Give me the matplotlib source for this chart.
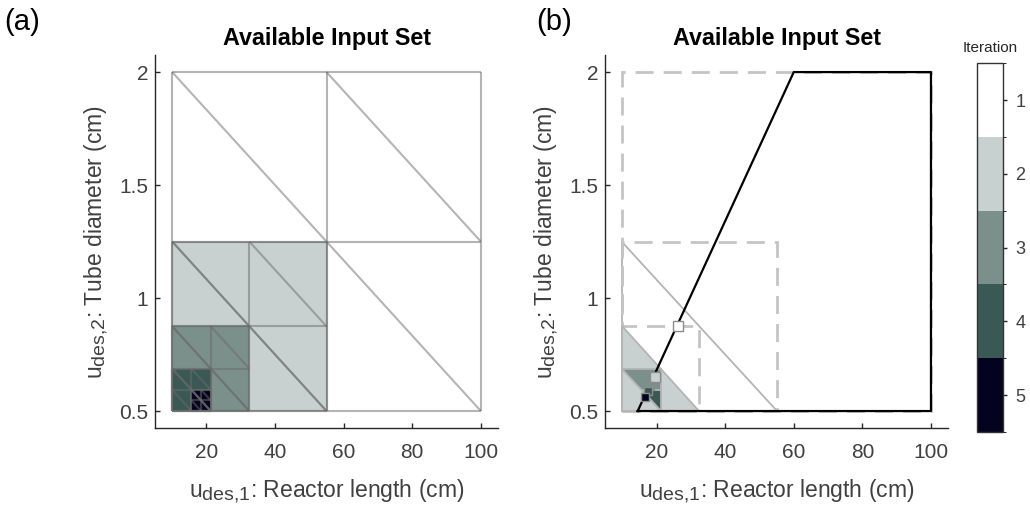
import numpy as np
import matplotlib
matplotlib.use('Agg')
import matplotlib.pyplot as plt
import matplotlib._mathtext as mtext
from matplotlib.collections import LineCollection
from matplotlib.patches import Polygon
from matplotlib.colors import ListedColormap, BoundaryNorm
import matplotlib.cm as cm

plt.rcParams['font.family'] = ['Liberation Sans', 'DejaVu Sans']
plt.rcParams['mathtext.default'] = 'regular'
# MATLAB-like subscripts: nearly full size
mtext.SHRINK_FACTOR = 0.85

# iteration levels and their colours
iterations = [1, 2, 3, 4, 5]
iter_colors = ['#ffffff', '#c8d1cf', '#7b8f8b', '#3a5955', '#03031f']

# box that gets bisected at each iteration (cm, cm)
box_x0 = [10, 10, 10, 10, 15.625]
box_x1 = [100, 55, 32.5, 21.25, 21.25]
box_y0 = [0.5, 0.5, 0.5, 0.5, 0.5]
box_y1 = [2, 1.25, 0.875, 0.6875, 0.59375]

# panel (b): half of the next box kept at each iteration
tri_half = ['ll', 'll', 'ur', 'ur']

# feasible region boundary
feas_x = [14.5, 60, 100, 100, 14.5]
feas_y = [0.5, 2, 2, 0.5, 0.5]

# points found on the boundary at each iteration
pt_x = [26.3, 19.5, 18.2, 17.4, 16.6]
pt_y = [0.875, 0.652, 0.612, 0.59, 0.563]

x_ticks = [20, 40, 60, 80, 100]
y_ticks = [0.5, 1, 1.5, 2]
y_ticklabels = ['0.5', '1', '1.5', '2']

txt_col = '#404040'


def grid_segments(x0, x1, y0, y1):
    xm = (x0 + x1) / 2
    ym = (y0 + y1) / 2
    segs = [[(x0, y0), (x1, y0)], [(x1, y0), (x1, y1)],
            [(x1, y1), (x0, y1)], [(x0, y1), (x0, y0)],
            [(xm, y0), (xm, y1)], [(x0, ym), (x1, ym)],
            [(x0, y1), (xm, ym)], [(xm, y1), (x1, ym)],
            [(x0, ym), (xm, y0)], [(xm, ym), (x1, y0)]]
    return segs


def style_axes(ax):
    ax.set_xlim(5, 105)
    ax.set_ylim(0.425, 2.075)
    ax.spines['top'].set_visible(False)
    ax.spines['right'].set_visible(False)
    for s in ['left', 'bottom']:
        ax.spines[s].set_color('#262626')
        ax.spines[s].set_linewidth(1)
    ax.set_xticks(x_ticks)
    ax.set_yticks(y_ticks)
    ax.set_yticklabels(y_ticklabels)
    ax.tick_params(direction='in', length=3.5, width=1, colors='#262626',
                   labelcolor=txt_col, labelsize=15)
    ax.tick_params(axis='x', pad=11)
    ax.tick_params(axis='y', pad=5)
    ax.set_title('Available Input Set', fontweight='bold', fontsize=16.8, pad=7)
    ax.set_xlabel(r'u$_{des{,}1}$: Reactor length (cm)', fontsize=16.5,
                  color=txt_col, labelpad=11)
    ax.set_ylabel(r'u$_{des{,}2}$: Tube diameter (cm)', fontsize=16.5,
                  color=txt_col, labelpad=6)


fig = plt.figure(figsize=(10.3, 5.08), dpi=100)
ax1 = fig.add_axes([0.1505, 0.1575, 0.333, 0.734])
ax2 = fig.add_axes([0.5875, 0.1575, 0.333, 0.734])
cax = fig.add_axes([0.9485, 0.1496, 0.0252, 0.726])

# panel (a)
for i in range(len(iterations)):
    ax1.add_patch(plt.Rectangle((box_x0[i], box_y0[i]), box_x1[i] - box_x0[i],
                                box_y1[i] - box_y0[i], facecolor=iter_colors[i],
                                edgecolor='none', zorder=1 + i))
segs = []
for i in range(len(iterations)):
    segs += grid_segments(box_x0[i], box_x1[i], box_y0[i], box_y1[i])
ax1.add_collection(LineCollection(segs, colors=[(0.42, 0.42, 0.42, 0.5)],
                                  linewidths=1.5, zorder=10))
style_axes(ax1)

# panel (b)
for i in range(3):
    ax2.add_patch(plt.Rectangle((box_x0[i], box_y0[i]), box_x1[i] - box_x0[i],
                                box_y1[i] - box_y0[i], facecolor='none',
                                edgecolor='#c4c4c4', lw=2,
                                linestyle=(0, (6.5, 3.6)), zorder=2))
for i in range(len(tri_half)):
    j = i + 1
    x0, x1, y0, y1 = box_x0[j], box_x1[j], box_y0[j], box_y1[j]
    if tri_half[i] == 'll':
        pts = [(x0, y1), (x0, y0), (x1, y0)]
    else:
        pts = [(x0, y1), (x1, y1), (x1, y0)]
    ax2.add_patch(Polygon(pts, closed=True, facecolor=iter_colors[i],
                          edgecolor='#b4b4b4', lw=1.3,
                          zorder=1 if i == 0 else 3 + i))
ax2.plot(feas_x, feas_y, color='black', lw=1.6, zorder=10)
for i in range(len(iterations)):
    ax2.plot(pt_x[i], pt_y[i], 's', ms=7.5 if i < 2 else 6,
             markerfacecolor=iter_colors[i], markeredgecolor='#8c8c8c',
             markeredgewidth=1, zorder=11 + i)
style_axes(ax2)

# colourbar
cmap = ListedColormap(iter_colors)
norm = BoundaryNorm(np.arange(0.5, 6.0, 1.0), cmap.N)
cb = fig.colorbar(cm.ScalarMappable(norm=norm, cmap=cmap), cax=cax,
                  ticks=iterations)
cax.invert_yaxis()
cb.outline.set_edgecolor('#333333')
cb.outline.set_linewidth(1)
cax.tick_params(length=3, width=1, colors='#262626', labelcolor=txt_col,
                labelsize=13, pad=6)
cax.set_title('Iteration', fontsize=11, color='#262626', pad=8)

fig.text(0.004, 0.985, '(a)', fontsize=21, va='top', ha='left')
fig.text(0.521, 0.985, '(b)', fontsize=21, va='top', ha='left')

fig.savefig('out.png', dpi=100)
